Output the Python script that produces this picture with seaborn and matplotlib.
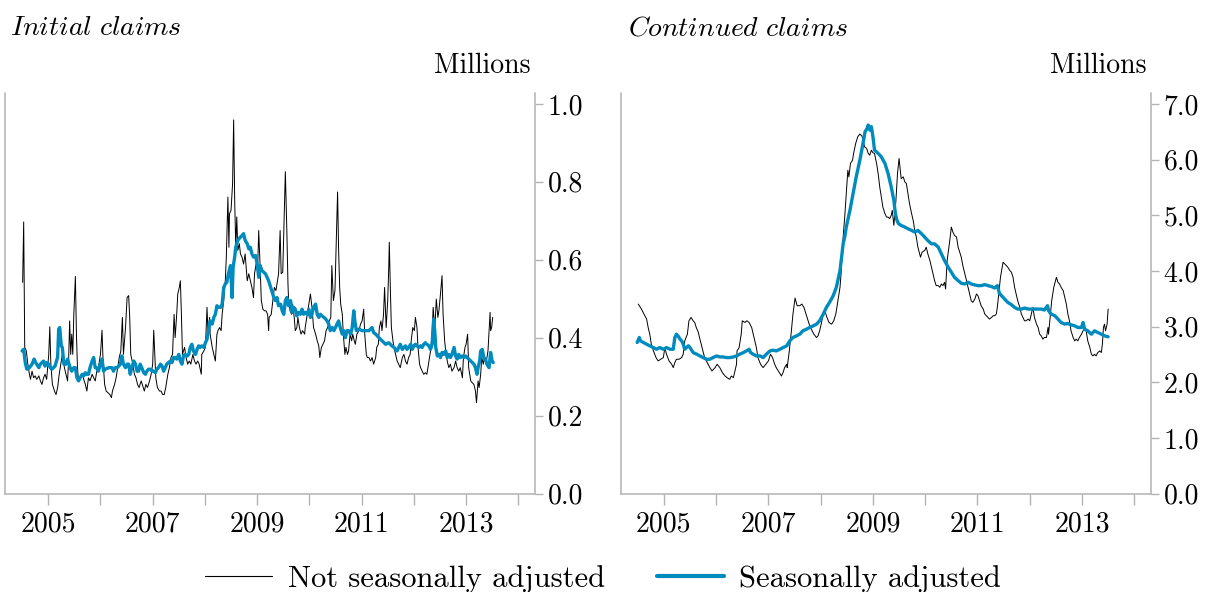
import matplotlib
matplotlib.use("Agg")
import matplotlib.pyplot as plt
import seaborn as sns
from matplotlib.lines import Line2D

# ---------------- data (millions; x = position on the year axis) ----------------
ic_nsa_t = [2004.51, 2004.53, 2004.55, 2004.58, 2004.61, 2004.64, 2004.66, 2004.69, 2004.72, 2004.75,
            2004.78, 2004.82, 2004.85, 2004.88, 2004.91, 2004.94, 2004.97, 2005.01, 2005.03, 2005.05,
            2005.08, 2005.12, 2005.15, 2005.18, 2005.21, 2005.24, 2005.27, 2005.31, 2005.34, 2005.37,
            2005.39, 2005.41, 2005.43, 2005.45, 2005.47, 2005.49, 2005.52, 2005.54, 2005.56, 2005.58,
            2005.61, 2005.65, 2005.68, 2005.71, 2005.74, 2005.77, 2005.80, 2005.84, 2005.87, 2005.90,
            2005.93, 2005.96, 2006.00, 2006.03, 2006.05, 2006.08, 2006.11, 2006.14, 2006.18, 2006.21,
            2006.23, 2006.27, 2006.30, 2006.33, 2006.36, 2006.39, 2006.42, 2006.44, 2006.48, 2006.51,
            2006.54, 2006.56, 2006.58, 2006.62, 2006.65, 2006.68, 2006.71, 2006.74, 2006.78, 2006.81,
            2006.84, 2006.87, 2006.90, 2006.94, 2006.97, 2007.00, 2007.02, 2007.04, 2007.06, 2007.09,
            2007.13, 2007.16, 2007.19, 2007.22, 2007.25, 2007.29, 2007.32, 2007.35, 2007.38, 2007.41,
            2007.43, 2007.46, 2007.48, 2007.51, 2007.53, 2007.55, 2007.57, 2007.61, 2007.64, 2007.67,
            2007.70, 2007.73, 2007.77, 2007.80, 2007.83, 2007.86, 2007.89, 2007.93, 2007.94, 2007.98,
            2008.01, 2008.04, 2008.06, 2008.09, 2008.10, 2008.14, 2008.17, 2008.20, 2008.23, 2008.25,
            2008.28, 2008.31, 2008.33, 2008.36, 2008.39, 2008.41, 2008.44, 2008.46, 2008.47, 2008.50,
            2008.53, 2008.55, 2008.57, 2008.59, 2008.61, 2008.63, 2008.66, 2008.68, 2008.71, 2008.74,
            2008.77, 2008.81, 2008.84, 2008.87, 2008.90, 2008.93, 2008.95, 2008.98, 2009.01, 2009.03,
            2009.06, 2009.08, 2009.11, 2009.14, 2009.17, 2009.20, 2009.22, 2009.23, 2009.27, 2009.30,
            2009.33, 2009.36, 2009.39, 2009.41, 2009.44, 2009.46, 2009.49, 2009.52, 2009.54, 2009.57,
            2009.59, 2009.60, 2009.63, 2009.66, 2009.68, 2009.71, 2009.73, 2009.76, 2009.78, 2009.81,
            2009.84, 2009.87, 2009.91, 2009.92, 2009.96, 2009.99, 2010.02, 2010.05, 2010.08, 2010.12,
            2010.15, 2010.18, 2010.20, 2010.23, 2010.26, 2010.29, 2010.32, 2010.35, 2010.38, 2010.41,
            2010.43, 2010.46, 2010.49, 2010.51, 2010.54, 2010.56, 2010.58, 2010.60, 2010.63, 2010.65,
            2010.68, 2010.70, 2010.73, 2010.75, 2010.78, 2010.81, 2010.83, 2010.86, 2010.88, 2010.91,
            2010.95, 2010.98, 2011.01, 2011.04, 2011.06, 2011.09, 2011.11, 2011.14, 2011.17, 2011.20,
            2011.23, 2011.27, 2011.29, 2011.32, 2011.34, 2011.37, 2011.39, 2011.42, 2011.44, 2011.47,
            2011.50, 2011.52, 2011.53, 2011.55, 2011.57, 2011.60, 2011.62, 2011.65, 2011.68, 2011.71,
            2011.74, 2011.78, 2011.81, 2011.84, 2011.87, 2011.90, 2011.93, 2011.95, 2011.98, 2012.01,
            2012.03, 2012.06, 2012.08, 2012.11, 2012.13, 2012.16, 2012.19, 2012.22, 2012.25, 2012.29,
            2012.32, 2012.35, 2012.37, 2012.40, 2012.41, 2012.43, 2012.46, 2012.48, 2012.51, 2012.54,
            2012.56, 2012.59, 2012.61, 2012.64, 2012.67, 2012.70, 2012.73, 2012.77, 2012.80, 2012.83,
            2012.86, 2012.89, 2012.93, 2012.95, 2012.98, 2013.00, 2013.03, 2013.05, 2013.09, 2013.12,
            2013.15, 2013.18, 2013.20, 2013.23, 2013.25, 2013.28, 2013.30, 2013.33, 2013.35, 2013.38,
            2013.40, 2013.42, 2013.44, 2013.46, 2013.47, 2013.49, 2013.51]
ic_nsa_v = [0.542, 0.697, 0.375, 0.366, 0.332, 0.306, 0.293, 0.314, 0.297, 0.302,
            0.293, 0.302, 0.289, 0.280, 0.297, 0.306, 0.293, 0.357, 0.428, 0.332,
            0.280, 0.263, 0.254, 0.272, 0.306, 0.332, 0.357, 0.323, 0.306, 0.289,
            0.340, 0.443, 0.357, 0.409, 0.357, 0.460, 0.557, 0.409, 0.323, 0.289,
            0.297, 0.306, 0.293, 0.280, 0.263, 0.297, 0.289, 0.306, 0.297, 0.289,
            0.314, 0.323, 0.357, 0.419, 0.340, 0.280, 0.263, 0.259, 0.254, 0.246,
            0.263, 0.280, 0.297, 0.323, 0.349, 0.366, 0.452, 0.357, 0.426, 0.503,
            0.508, 0.452, 0.357, 0.332, 0.306, 0.297, 0.280, 0.272, 0.289, 0.276,
            0.263, 0.280, 0.272, 0.289, 0.306, 0.332, 0.419, 0.357, 0.297, 0.272,
            0.263, 0.263, 0.254, 0.254, 0.272, 0.306, 0.323, 0.349, 0.357, 0.460,
            0.400, 0.460, 0.512, 0.529, 0.546, 0.460, 0.357, 0.375, 0.349, 0.332,
            0.340, 0.332, 0.357, 0.340, 0.332, 0.340, 0.332, 0.306, 0.357, 0.366,
            0.375, 0.478, 0.409, 0.452, 0.409, 0.375, 0.357, 0.340, 0.409, 0.418,
            0.426, 0.418, 0.460, 0.495, 0.546, 0.607, 0.761, 0.632, 0.718, 0.727,
            0.796, 0.959, 0.753, 0.632, 0.710, 0.624, 0.641, 0.615, 0.607, 0.589,
            0.615, 0.546, 0.564, 0.546, 0.529, 0.503, 0.564, 0.589, 0.580, 0.675,
            0.572, 0.495, 0.473, 0.469, 0.469, 0.460, 0.418, 0.452, 0.460, 0.495,
            0.529, 0.521, 0.546, 0.564, 0.675, 0.564, 0.568, 0.727, 0.826, 0.667,
            0.538, 0.503, 0.469, 0.460, 0.486, 0.452, 0.418, 0.426, 0.452, 0.426,
            0.409, 0.418, 0.409, 0.426, 0.460, 0.486, 0.512, 0.478, 0.426, 0.409,
            0.392, 0.379, 0.349, 0.375, 0.383, 0.392, 0.418, 0.426, 0.443, 0.452,
            0.585, 0.495, 0.521, 0.624, 0.774, 0.624, 0.529, 0.486, 0.460, 0.409,
            0.357, 0.375, 0.357, 0.366, 0.409, 0.392, 0.409, 0.392, 0.383, 0.409,
            0.418, 0.435, 0.443, 0.473, 0.409, 0.357, 0.349, 0.349, 0.340, 0.349,
            0.332, 0.349, 0.375, 0.383, 0.426, 0.443, 0.418, 0.460, 0.529, 0.426,
            0.495, 0.581, 0.645, 0.529, 0.426, 0.392, 0.375, 0.357, 0.340, 0.332,
            0.323, 0.349, 0.357, 0.340, 0.332, 0.349, 0.357, 0.392, 0.426, 0.418,
            0.452, 0.426, 0.375, 0.332, 0.323, 0.314, 0.306, 0.310, 0.306, 0.340,
            0.366, 0.409, 0.478, 0.426, 0.443, 0.499, 0.452, 0.469, 0.512, 0.559,
            0.460, 0.392, 0.366, 0.340, 0.323, 0.332, 0.314, 0.323, 0.340, 0.323,
            0.314, 0.323, 0.297, 0.349, 0.375, 0.383, 0.409, 0.323, 0.289, 0.284,
            0.280, 0.263, 0.233, 0.289, 0.272, 0.306, 0.349, 0.332, 0.349, 0.332,
            0.349, 0.366, 0.418, 0.465, 0.418, 0.426, 0.452]

ic_sa_t = [2004.50, 2004.53, 2004.56, 2004.59, 2004.64, 2004.69, 2004.73, 2004.76, 2004.82, 2004.85,
           2004.88, 2004.91, 2004.94, 2004.97, 2005.01, 2005.04, 2005.07, 2005.10, 2005.13, 2005.18,
           2005.20, 2005.22, 2005.25, 2005.27, 2005.30, 2005.34, 2005.37, 2005.39, 2005.42, 2005.45,
           2005.49, 2005.52, 2005.55, 2005.58, 2005.61, 2005.65, 2005.68, 2005.71, 2005.74, 2005.77,
           2005.80, 2005.84, 2005.87, 2005.90, 2005.93, 2005.96, 2006.00, 2006.03, 2006.06, 2006.09,
           2006.16, 2006.22, 2006.25, 2006.28, 2006.32, 2006.35, 2006.38, 2006.41, 2006.44, 2006.48,
           2006.51, 2006.54, 2006.57, 2006.60, 2006.64, 2006.67, 2006.70, 2006.73, 2006.76, 2006.79,
           2006.83, 2006.86, 2006.89, 2006.92, 2006.96, 2006.99, 2007.02, 2007.05, 2007.08, 2007.11,
           2007.15, 2007.18, 2007.21, 2007.24, 2007.27, 2007.30, 2007.34, 2007.37, 2007.40, 2007.43,
           2007.46, 2007.50, 2007.53, 2007.56, 2007.59, 2007.62, 2007.66, 2007.69, 2007.72, 2007.75,
           2007.78, 2007.82, 2007.85, 2007.88, 2007.91, 2007.94, 2007.98, 2008.01, 2008.04, 2008.07,
           2008.10, 2008.14, 2008.17, 2008.20, 2008.23, 2008.26, 2008.30, 2008.33, 2008.36, 2008.39,
           2008.42, 2008.45, 2008.49, 2008.51, 2008.52, 2008.54, 2008.57, 2008.59, 2008.63, 2008.68,
           2008.71, 2008.74, 2008.77, 2008.81, 2008.84, 2008.87, 2008.90, 2008.93, 2008.97, 2009.00,
           2009.03, 2009.06, 2009.09, 2009.16, 2009.22, 2009.25, 2009.29, 2009.32, 2009.35, 2009.38,
           2009.41, 2009.45, 2009.48, 2009.51, 2009.54, 2009.57, 2009.60, 2009.64, 2009.67, 2009.70,
           2009.73, 2009.76, 2009.80, 2009.83, 2009.86, 2009.89, 2009.92, 2009.96, 2009.99, 2010.02,
           2010.05, 2010.08, 2010.12, 2010.15, 2010.18, 2010.21, 2010.24, 2010.28, 2010.31, 2010.34,
           2010.37, 2010.40, 2010.44, 2010.47, 2010.50, 2010.53, 2010.56, 2010.59, 2010.63, 2010.66,
           2010.69, 2010.72, 2010.75, 2010.79, 2010.82, 2010.85, 2010.87, 2010.90, 2010.95, 2011.01,
           2011.07, 2011.14, 2011.20, 2011.23, 2011.27, 2011.33, 2011.39, 2011.46, 2011.52, 2011.58,
           2011.62, 2011.65, 2011.68, 2011.71, 2011.74, 2011.78, 2011.81, 2011.84, 2011.87, 2011.90,
           2011.94, 2011.97, 2012.00, 2012.03, 2012.06, 2012.10, 2012.13, 2012.16, 2012.19, 2012.22,
           2012.25, 2012.29, 2012.32, 2012.35, 2012.38, 2012.40, 2012.42, 2012.45, 2012.48, 2012.51,
           2012.54, 2012.57, 2012.61, 2012.64, 2012.67, 2012.70, 2012.73, 2012.77, 2012.80, 2012.83,
           2012.86, 2012.89, 2012.93, 2012.96, 2012.99, 2013.02, 2013.05, 2013.09, 2013.12, 2013.15,
           2013.18, 2013.21, 2013.23, 2013.26, 2013.28, 2013.31, 2013.34, 2013.37, 2013.40, 2013.44,
           2013.46, 2013.47, 2013.50, 2013.52]
ic_sa_v = [0.366, 0.370, 0.336, 0.319, 0.323, 0.332, 0.345, 0.336, 0.323, 0.332,
           0.336, 0.340, 0.327, 0.336, 0.332, 0.323, 0.319, 0.323, 0.327, 0.350,
           0.422, 0.426, 0.379, 0.375, 0.332, 0.332, 0.345, 0.336, 0.323, 0.314,
           0.323, 0.323, 0.297, 0.289, 0.297, 0.306, 0.302, 0.310, 0.306, 0.306,
           0.323, 0.340, 0.349, 0.323, 0.323, 0.314, 0.332, 0.345, 0.314, 0.319,
           0.323, 0.323, 0.314, 0.323, 0.323, 0.327, 0.332, 0.353, 0.332, 0.323,
           0.332, 0.332, 0.306, 0.323, 0.340, 0.332, 0.314, 0.314, 0.332, 0.323,
           0.310, 0.306, 0.314, 0.319, 0.319, 0.314, 0.314, 0.310, 0.319, 0.323,
           0.332, 0.327, 0.314, 0.323, 0.332, 0.336, 0.340, 0.336, 0.349, 0.349,
           0.345, 0.357, 0.340, 0.332, 0.353, 0.357, 0.353, 0.357, 0.375, 0.383,
           0.366, 0.357, 0.370, 0.379, 0.375, 0.379, 0.375, 0.387, 0.396, 0.418,
           0.443, 0.435, 0.452, 0.460, 0.482, 0.478, 0.478, 0.486, 0.529, 0.538,
           0.542, 0.564, 0.585, 0.529, 0.503, 0.581, 0.607, 0.632, 0.650, 0.658,
           0.662, 0.667, 0.650, 0.641, 0.628, 0.632, 0.615, 0.607, 0.611, 0.589,
           0.555, 0.585, 0.572, 0.564, 0.546, 0.533, 0.516, 0.503, 0.495, 0.503,
           0.482, 0.486, 0.469, 0.460, 0.495, 0.503, 0.482, 0.495, 0.465, 0.478,
           0.473, 0.456, 0.465, 0.460, 0.473, 0.460, 0.465, 0.460, 0.473, 0.452,
           0.460, 0.478, 0.486, 0.460, 0.452, 0.460, 0.456, 0.452, 0.448, 0.443,
           0.435, 0.418, 0.426, 0.418, 0.426, 0.435, 0.443, 0.426, 0.409, 0.418,
           0.400, 0.418, 0.418, 0.409, 0.426, 0.469, 0.443, 0.418, 0.422, 0.418,
           0.418, 0.418, 0.426, 0.413, 0.409, 0.400, 0.392, 0.383, 0.387, 0.379,
           0.375, 0.370, 0.366, 0.375, 0.383, 0.370, 0.375, 0.379, 0.370, 0.375,
           0.383, 0.370, 0.379, 0.383, 0.379, 0.375, 0.379, 0.375, 0.383, 0.387,
           0.383, 0.379, 0.370, 0.383, 0.448, 0.418, 0.375, 0.353, 0.357, 0.349,
           0.362, 0.357, 0.366, 0.349, 0.357, 0.349, 0.357, 0.375, 0.353, 0.345,
           0.357, 0.349, 0.353, 0.349, 0.353, 0.349, 0.345, 0.340, 0.336, 0.332,
           0.323, 0.306, 0.323, 0.340, 0.366, 0.370, 0.349, 0.345, 0.332, 0.323,
           0.349, 0.362, 0.340, 0.336]

cc_nsa_t = [2004.51, 2004.57, 2004.62, 2004.67, 2004.70, 2004.73, 2004.76, 2004.80, 2004.85, 2004.89,
            2004.94, 2004.99, 2005.02, 2005.05, 2005.10, 2005.15, 2005.18, 2005.21, 2005.24, 2005.29,
            2005.34, 2005.37, 2005.40, 2005.45, 2005.48, 2005.52, 2005.56, 2005.59, 2005.62, 2005.66,
            2005.69, 2005.74, 2005.78, 2005.83, 2005.88, 2005.92, 2005.98, 2006.02, 2006.07, 2006.12,
            2006.17, 2006.21, 2006.26, 2006.29, 2006.33, 2006.36, 2006.39, 2006.40, 2006.44, 2006.48,
            2006.50, 2006.55, 2006.59, 2006.63, 2006.68, 2006.71, 2006.74, 2006.77, 2006.80, 2006.85,
            2006.90, 2006.95, 2007.00, 2007.04, 2007.08, 2007.12, 2007.15, 2007.21, 2007.25, 2007.28,
            2007.31, 2007.35, 2007.36, 2007.40, 2007.44, 2007.47, 2007.51, 2007.55, 2007.60, 2007.64,
            2007.68, 2007.73, 2007.78, 2007.82, 2007.87, 2007.92, 2007.95, 2007.98, 2008.01, 2008.05,
            2008.08, 2008.12, 2008.16, 2008.21, 2008.25, 2008.29, 2008.33, 2008.37, 2008.39, 2008.42,
            2008.46, 2008.49, 2008.52, 2008.54, 2008.57, 2008.61, 2008.63, 2008.67, 2008.71, 2008.75,
            2008.79, 2008.81, 2008.84, 2008.88, 2008.91, 2008.94, 2008.97, 2009.00, 2009.03, 2009.07,
            2009.10, 2009.13, 2009.16, 2009.19, 2009.23, 2009.26, 2009.29, 2009.32, 2009.35, 2009.37,
            2009.40, 2009.44, 2009.47, 2009.50, 2009.54, 2009.58, 2009.61, 2009.64, 2009.67, 2009.70,
            2009.74, 2009.77, 2009.80, 2009.83, 2009.86, 2009.91, 2009.94, 2009.99, 2010.02, 2010.05,
            2010.09, 2010.12, 2010.15, 2010.18, 2010.21, 2010.25, 2010.28, 2010.31, 2010.34, 2010.37,
            2010.39, 2010.42, 2010.47, 2010.50, 2010.53, 2010.56, 2010.60, 2010.63, 2010.66, 2010.69,
            2010.72, 2010.76, 2010.79, 2010.82, 2010.85, 2010.88, 2010.91, 2010.95, 2010.98, 2011.01,
            2011.04, 2011.07, 2011.11, 2011.14, 2011.20, 2011.23, 2011.27, 2011.30, 2011.33, 2011.36,
            2011.38, 2011.41, 2011.44, 2011.49, 2011.52, 2011.55, 2011.58, 2011.62, 2011.65, 2011.68,
            2011.71, 2011.74, 2011.77, 2011.81, 2011.84, 2011.87, 2011.90, 2011.93, 2011.97, 2012.00,
            2012.03, 2012.06, 2012.09, 2012.13, 2012.16, 2012.19, 2012.22, 2012.25, 2012.28, 2012.32,
            2012.35, 2012.36, 2012.39, 2012.42, 2012.46, 2012.51, 2012.54, 2012.57, 2012.60, 2012.64,
            2012.67, 2012.70, 2012.73, 2012.76, 2012.79, 2012.83, 2012.86, 2012.89, 2012.92, 2012.95,
            2012.99, 2013.02, 2013.05, 2013.08, 2013.11, 2013.15, 2013.18, 2013.21, 2013.24, 2013.27,
            2013.30, 2013.34, 2013.37, 2013.39, 2013.41, 2013.43, 2013.45, 2013.48, 2013.50]
cc_nsa_v = [3.404, 3.314, 3.224, 3.134, 2.983, 2.863, 2.683, 2.562, 2.442, 2.382,
            2.412, 2.442, 2.622, 2.502, 2.382, 2.322, 2.262, 2.352, 2.412, 2.412,
            2.442, 2.502, 2.743, 2.863, 3.103, 3.164, 3.103, 3.073, 2.983, 2.893,
            2.773, 2.592, 2.442, 2.352, 2.262, 2.202, 2.262, 2.322, 2.262, 2.172,
            2.111, 2.081, 2.051, 2.111, 2.081, 2.202, 2.322, 2.562, 2.622, 2.863,
            3.103, 3.073, 3.103, 3.073, 2.983, 2.863, 2.743, 2.622, 2.442, 2.322,
            2.262, 2.322, 2.382, 2.502, 2.442, 2.322, 2.262, 2.172, 2.111, 2.172,
            2.262, 2.322, 2.262, 2.562, 2.923, 3.224, 3.512, 3.374, 3.374, 3.404,
            3.344, 3.194, 3.043, 2.953, 2.863, 2.803, 2.833, 2.923, 3.043, 3.224,
            3.284, 3.164, 3.073, 3.043, 3.103, 3.224, 3.464, 3.705, 3.945, 4.486,
            4.967, 5.388, 5.809, 5.689, 5.930, 5.990, 6.110, 6.290, 6.411, 6.459,
            6.423, 6.350, 6.230, 6.200, 6.110, 6.080, 6.170, 6.122, 6.110, 5.930,
            5.749, 5.509, 5.328, 5.148, 5.028, 4.967, 4.967, 4.937, 4.997, 5.088,
            4.817, 5.268, 5.749, 6.020, 5.659, 5.689, 5.599, 5.569, 5.388, 5.208,
            5.028, 4.907, 4.727, 4.607, 4.426, 4.246, 4.336, 4.366, 4.426, 4.306,
            4.186, 4.066, 3.945, 3.825, 3.735, 3.735, 3.705, 3.765, 3.735, 3.795,
            3.675, 4.186, 4.546, 4.787, 4.697, 4.637, 4.607, 4.426, 4.336, 4.246,
            4.096, 3.945, 3.825, 3.705, 3.584, 3.464, 3.434, 3.494, 3.584, 3.554,
            3.464, 3.374, 3.314, 3.224, 3.164, 3.134, 3.164, 3.194, 3.194, 3.224,
            3.344, 3.614, 3.885, 4.156, 4.126, 4.096, 4.066, 4.005, 3.975, 3.885,
            3.705, 3.584, 3.464, 3.344, 3.224, 3.164, 3.103, 3.103, 3.134, 3.103,
            3.224, 3.344, 3.164, 3.043, 2.983, 2.863, 2.833, 2.773, 2.803, 2.803,
            2.983, 2.863, 3.164, 3.464, 3.705, 3.885, 3.795, 3.765, 3.705, 3.645,
            3.524, 3.404, 3.224, 3.103, 2.923, 2.803, 2.743, 2.773, 2.743, 2.803,
            2.863, 2.923, 2.983, 2.923, 2.743, 2.622, 2.502, 2.472, 2.502, 2.472,
            2.532, 2.562, 2.532, 2.683, 2.983, 3.043, 2.923, 3.043, 3.314]

cc_sa_t = [2004.49, 2004.53, 2004.55, 2004.61, 2004.67, 2004.73, 2004.80, 2004.86, 2004.92, 2004.99,
           2005.05, 2005.12, 2005.18, 2005.21, 2005.24, 2005.27, 2005.31, 2005.34, 2005.37, 2005.40,
           2005.43, 2005.47, 2005.50, 2005.56, 2005.63, 2005.69, 2005.75, 2005.82, 2005.88, 2005.94,
           2006.01, 2006.07, 2006.13, 2006.20, 2006.26, 2006.33, 2006.39, 2006.45, 2006.52, 2006.58,
           2006.63, 2006.66, 2006.71, 2006.77, 2006.84, 2006.90, 2006.96, 2007.03, 2007.09, 2007.15,
           2007.22, 2007.28, 2007.35, 2007.41, 2007.47, 2007.54, 2007.60, 2007.66, 2007.73, 2007.79,
           2007.86, 2007.92, 2007.98, 2008.05, 2008.11, 2008.17, 2008.24, 2008.30, 2008.37, 2008.40,
           2008.43, 2008.46, 2008.49, 2008.56, 2008.62, 2008.68, 2008.75, 2008.81, 2008.85, 2008.89,
           2008.91, 2008.94, 2008.97, 2009.00, 2009.03, 2009.10, 2009.16, 2009.23, 2009.29, 2009.35,
           2009.40, 2009.43, 2009.46, 2009.49, 2009.54, 2009.61, 2009.67, 2009.74, 2009.80, 2009.86,
           2009.93, 2009.99, 2010.05, 2010.12, 2010.18, 2010.25, 2010.31, 2010.37, 2010.44, 2010.50,
           2010.56, 2010.63, 2010.69, 2010.76, 2010.82, 2010.88, 2010.95, 2011.01, 2011.07, 2011.14,
           2011.20, 2011.27, 2011.33, 2011.38, 2011.42, 2011.46, 2011.52, 2011.58, 2011.65, 2011.71,
           2011.77, 2011.84, 2011.90, 2011.97, 2012.03, 2012.09, 2012.16, 2012.22, 2012.28, 2012.34,
           2012.36, 2012.41, 2012.48, 2012.54, 2012.60, 2012.67, 2012.73, 2012.79, 2012.86, 2012.92,
           2012.99, 2013.02, 2013.05, 2013.11, 2013.18, 2013.24, 2013.30, 2013.37, 2013.43, 2013.50]
cc_sa_v = [2.713, 2.803, 2.743, 2.713, 2.683, 2.653, 2.622, 2.592, 2.622, 2.592,
           2.622, 2.592, 2.592, 2.803, 2.863, 2.833, 2.773, 2.743, 2.683, 2.592,
           2.622, 2.653, 2.622, 2.532, 2.502, 2.472, 2.442, 2.412, 2.412, 2.442,
           2.472, 2.454, 2.454, 2.442, 2.442, 2.454, 2.472, 2.502, 2.532, 2.562,
           2.592, 2.532, 2.502, 2.472, 2.472, 2.442, 2.502, 2.562, 2.574, 2.562,
           2.592, 2.622, 2.653, 2.743, 2.803, 2.833, 2.863, 2.923, 2.953, 2.983,
           3.013, 3.043, 3.103, 3.224, 3.344, 3.434, 3.554, 3.705, 4.005, 4.246,
           4.486, 4.607, 4.787, 5.088, 5.388, 5.689, 5.990, 6.290, 6.501, 6.561,
           6.621, 6.531, 6.591, 6.411, 6.170, 6.110, 6.050, 5.930, 5.749, 5.509,
           5.268, 5.028, 4.907, 4.847, 4.817, 4.787, 4.757, 4.727, 4.697, 4.727,
           4.667, 4.607, 4.546, 4.486, 4.486, 4.426, 4.306, 4.186, 4.066, 3.975,
           3.885, 3.825, 3.777, 3.765, 3.795, 3.765, 3.747, 3.735, 3.735, 3.753,
           3.735, 3.717, 3.693, 3.735, 3.597, 3.554, 3.494, 3.434, 3.392, 3.344,
           3.314, 3.314, 3.332, 3.314, 3.314, 3.314, 3.314, 3.314, 3.296, 3.374,
           3.284, 3.224, 3.194, 3.134, 3.073, 3.043, 3.055, 3.031, 3.013, 2.983,
           2.983, 3.073, 2.953, 2.923, 2.863, 2.923, 2.893, 2.863, 2.833, 2.815]

year_ticks = [2005, 2006, 2007, 2008, 2009, 2010, 2011, 2012, 2013, 2014]
year_labels = ["2005", "", "2007", "", "2009", "", "2011", "", "2013", ""]
ic_ticks = [0.0, 0.2, 0.4, 0.6, 0.8, 1.0]
ic_labels = ["0.0", "0.2", "0.4", "0.6", "0.8", "1.0"]
cc_ticks = [0.0, 1.0, 2.0, 3.0, 4.0, 5.0, 6.0, 7.0]
cc_labels = ["0.0", "1.0", "2.0", "3.0", "4.0", "5.0", "6.0", "7.0"]
series_names = ["Not seasonally adjusted", "Seasonally adjusted"]

# ---------------- style ----------------
sns.set_theme(style="white")
plt.rcParams["font.family"] = ["cmr10", "DejaVu Serif"]
plt.rcParams["mathtext.fontset"] = "cm"
plt.rcParams["axes.unicode_minus"] = False
plt.rcParams["axes.formatter.use_mathtext"] = True
plt.rcParams["text.color"] = "black"
plt.rcParams["xtick.color"] = "black"
plt.rcParams["ytick.color"] = "black"

BLUE = "#008bbf"
GRAY = "#b3b3b3"
FS = 20
W, H = 1207, 592

fig = plt.figure(figsize=(W / 100, H / 100), dpi=100)
fig.patch.set_facecolor("white")

ax_bottom = 493.5
ax_top = 93.0
ax1 = fig.add_axes([5.4 / W, 1 - ax_bottom / H, (535 - 5.4) / W, (ax_bottom - ax_top) / H])
ax2 = fig.add_axes([621 / W, 1 - ax_bottom / H, (1151 - 621) / W, (ax_bottom - ax_top) / H])


def style(ax, ymax, yticks, ylabels):
    ax.set_xlim(2004.18, 2014.32)
    ax.set_ylim(0, ymax)
    ax.grid(False)
    ax.set_facecolor("white")
    ax.spines["top"].set_visible(False)
    for s in ["left", "right", "bottom"]:
        ax.spines[s].set_visible(True)
        ax.spines[s].set_color(GRAY)
        ax.spines[s].set_linewidth(1.1)
    ax.set_xticks(year_ticks)
    ax.set_xticklabels(year_labels)
    ax.yaxis.tick_right()
    ax.set_yticks(yticks)
    ax.set_yticklabels(ylabels)
    ax.tick_params(axis="x", bottom=True, length=8, width=1.0, color=GRAY,
                   direction="out", pad=5, labelsize=FS, labelcolor="black")
    ax.tick_params(axis="y", right=True, left=False, length=6, width=1.0, color=GRAY,
                   direction="out", pad=3, labelsize=FS, labelcolor="black")
    ax.set_xlabel("")
    ax.set_ylabel("")


sns.lineplot(x=ic_nsa_t, y=ic_nsa_v, ax=ax1, color="black", linewidth=0.7,
             estimator=None, sort=False)
sns.lineplot(x=ic_sa_t, y=ic_sa_v, ax=ax1, color=BLUE, linewidth=2.4,
             estimator=None, sort=False)
sns.lineplot(x=cc_nsa_t, y=cc_nsa_v, ax=ax2, color="black", linewidth=0.7,
             estimator=None, sort=False)
sns.lineplot(x=cc_sa_t, y=cc_sa_v, ax=ax2, color=BLUE, linewidth=2.4,
             estimator=None, sort=False)

style(ax1, 1.028, ic_ticks, ic_labels)
style(ax2, 7.196, cc_ticks, cc_labels)

# titles and unit labels
fig.text(10 / W, 1 - 28 / H, r"$\mathit{Initial\ claims}$", fontsize=FS, ha="left", va="center",
         color="black")
fig.text(628 / W, 1 - 28 / H, r"$\mathit{Continued\ claims}$", fontsize=FS, ha="left", va="center",
         color="black")
fig.text(531 / W, 1 - 66 / H, "Millions", fontsize=FS, ha="right", va="center", color="black")
fig.text(1147 / W, 1 - 66 / H, "Millions", fontsize=FS, ha="right", va="center", color="black")

handles = [Line2D([0], [0], color="black", linewidth=0.8),
           Line2D([0], [0], color=BLUE, linewidth=3.0)]
leg = fig.legend(handles, series_names, loc="center", bbox_to_anchor=(603 / W, 1 - 579 / H),
                 ncol=2, frameon=False, fontsize=22, handlelength=2.2, handletextpad=0.5,
                 columnspacing=1.7, borderaxespad=0, borderpad=0)
for t in leg.get_texts():
    t.set_color("black")

fig.savefig("out.png", dpi=100, facecolor="white")
